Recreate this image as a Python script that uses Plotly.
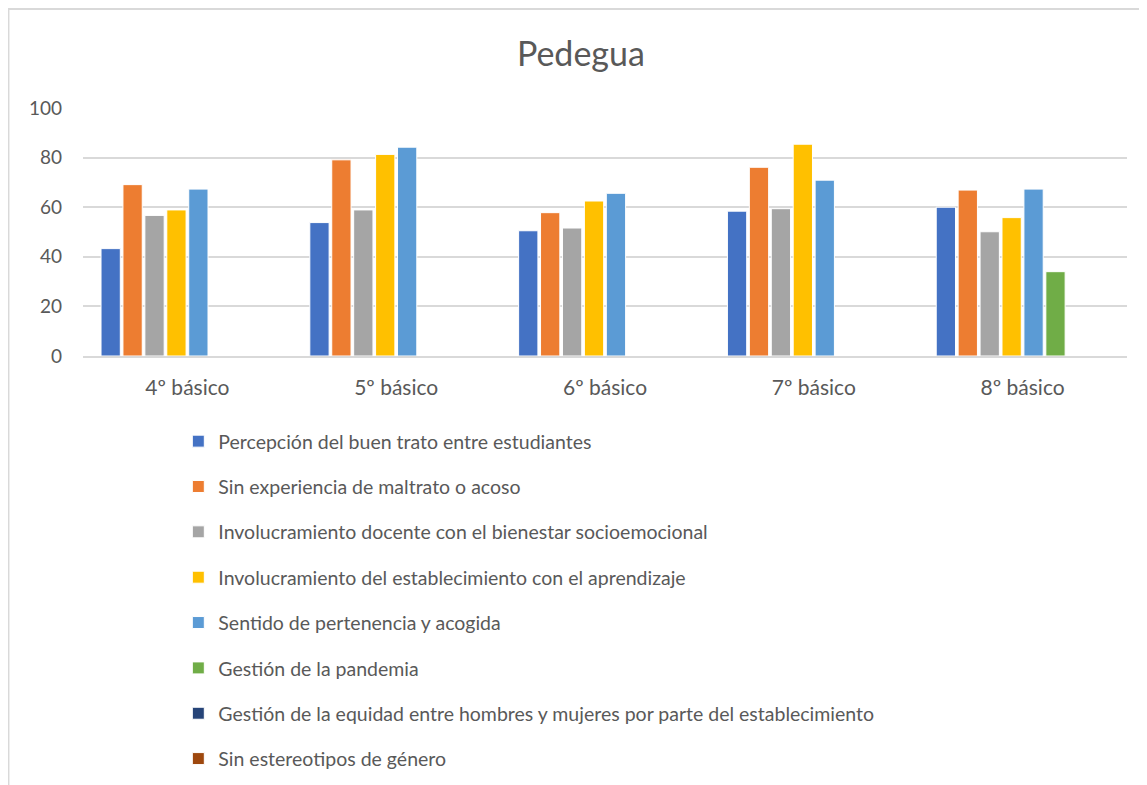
import plotly.graph_objects as go

categories = ["4º básico", "5º básico", "6º básico", "7º básico", "8º básico"]

series_names = [
    "Percepción del buen trato entre estudiantes",
    "Sin experiencia de maltrato o acoso",
    "Involucramiento docente con el bienestar socioemocional",
    "Involucramiento del establecimiento con el aprendizaje",
    "Sentido de pertenencia y acogida",
    "Gestión de la pandemia",
    "Gestión de la equidad entre hombres y mujeres por parte del establecimiento",
    "Sin estereotipos de género",
]

buen_trato = [43.3, 53.8, 50.5, 58.4, 60.0]
sin_maltrato = [69.1, 79.1, 57.8, 76.1, 66.9]
docente_bienestar = [56.7, 58.9, 51.6, 59.4, 50.1]
establecimiento_aprendizaje = [58.9, 81.3, 62.5, 85.4, 55.8]
pertenencia = [67.3, 84.2, 65.6, 70.9, 67.3]
pandemia = [None, None, None, None, 34.0]
equidad = [None, None, None, None, None]
estereotipos = [None, None, None, None, None]

series_values = [buen_trato, sin_maltrato, docente_bienestar,
                 establecimiento_aprendizaje, pertenencia, pandemia,
                 equidad, estereotipos]

colors = ["#4472C4", "#ED7D31", "#A5A5A5", "#FFC000", "#5B9BD5",
          "#70AD47", "#264478", "#9E480E"]

y_ticks = [0, 20, 40, 60, 80, 100]

FONT = "Lato"
TXT = "#595959"

fig = go.Figure()
for i, (name, vals, col) in enumerate(zip(series_names, series_values, colors)):
    fig.add_trace(go.Bar(
        x=categories, y=vals, name=name,
        marker=dict(color=col, line=dict(color="white", width=1)),
        legendgroup=f"g{i}",
    ))

fig.update_layout(
    width=1139, height=777,
    paper_bgcolor="white", plot_bgcolor="white",
    margin=dict(l=75, r=20, t=100, b=429, autoexpand=False),
    barmode="group", bargap=0.16, bargroupgap=0.12,
    title=dict(text="Pedegua", x=0.503, xanchor="center", y=0.941, yanchor="middle",
               font=dict(family=FONT, size=34, color=TXT)),
    font=dict(family=FONT, color=TXT, size=18),
    showlegend=True,
    legend=dict(
        orientation="v", x=0.0913, xanchor="left", y=-0.266, yanchor="top",
        font=dict(family=FONT, size=19.5, color=TXT),
        traceorder="grouped", tracegroupgap=17,
        bgcolor="rgba(0,0,0,0)",
    ),
    xaxis=dict(
        showgrid=False, showline=True, linecolor="#d9d9d9", linewidth=2,
        ticks="", tickfont=dict(family=FONT, size=21, color=TXT),
        ticklabelstandoff=12,
    ),
    yaxis=dict(
        range=[0, 100], tickvals=y_ticks, showgrid=True, gridcolor="#d9d9d9",
        gridwidth=2, zeroline=False, showline=False, ticks="",
        tickfont=dict(family=FONT, size=19, color=TXT),
        ticklabelstandoff=20,
    ),
    shapes=[dict(
        type="rect", xref="paper", yref="paper",
        x0=-0.0714, x1=1.1, y0=-1.8, y1=1.399,
        line=dict(color="#d9d9d9", width=2), fillcolor="rgba(0,0,0,0)",
        layer="below",
    )],
)

fig.write_html("out.html")
